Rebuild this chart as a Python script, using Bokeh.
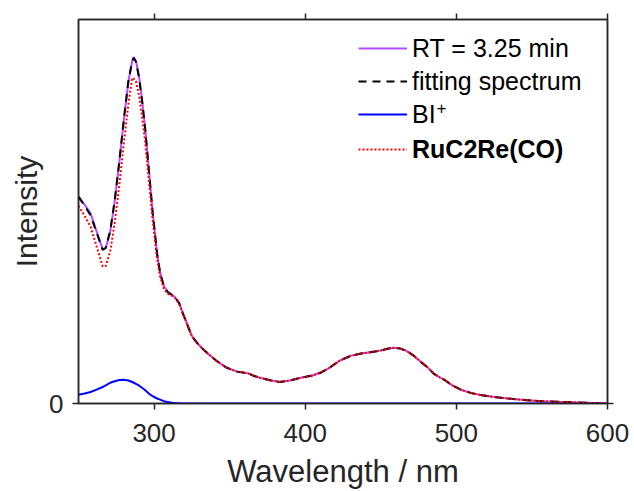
from bokeh.plotting import figure
from bokeh.models import Range1d, LinearAxis, FixedTicker, Legend, LegendItem, Label
from bokeh.embed import file_html
from bokeh.resources import INLINE

# ---------------- data ----------------
wavelength = [250, 254, 258, 262, 266, 268, 271, 274, 277, 280, 283, 285.5, 286.5, 288, 290,
              292, 294, 296.5, 299, 302, 304, 306.5, 309, 312, 314, 316.5, 319, 322, 325, 330,
              335, 341, 348, 355, 362, 366, 370, 376, 383, 390, 397, 404, 410, 416, 423, 430,
              437, 444, 450, 455, 459, 463, 467, 472, 476, 481, 485, 489, 492, 497, 503, 510,
              516, 525, 534, 545, 556, 570, 585, 600]

rt_spectrum = [0.540, 0.518, 0.495, 0.448, 0.402, 0.404, 0.447, 0.528, 0.628, 0.738, 0.838, 0.892,
               0.902, 0.892, 0.853, 0.793, 0.722, 0.612, 0.501, 0.391, 0.341, 0.306, 0.291, 0.283,
               0.276, 0.263, 0.236, 0.206, 0.176, 0.151, 0.132, 0.112, 0.093, 0.083, 0.079, 0.072,
               0.067, 0.061, 0.056, 0.060, 0.067, 0.072, 0.080, 0.093, 0.112, 0.124, 0.130, 0.134,
               0.138, 0.143, 0.145, 0.143, 0.137, 0.124, 0.110, 0.094, 0.078, 0.068, 0.062, 0.048,
               0.036, 0.027, 0.022, 0.017, 0.013, 0.009, 0.006, 0.004, 0.002, 0.000]

fitting_spectrum = [0.538, 0.515, 0.490, 0.445, 0.400, 0.405, 0.450, 0.530, 0.630, 0.740, 0.840, 0.890,
                    0.900, 0.890, 0.850, 0.790, 0.720, 0.610, 0.500, 0.390, 0.340, 0.305, 0.290, 0.282,
                    0.275, 0.262, 0.235, 0.205, 0.175, 0.150, 0.132, 0.112, 0.093, 0.083, 0.079, 0.072,
                    0.067, 0.061, 0.056, 0.060, 0.067, 0.072, 0.080, 0.093, 0.112, 0.124, 0.130, 0.134,
                    0.138, 0.143, 0.145, 0.143, 0.137, 0.124, 0.110, 0.094, 0.078, 0.068, 0.062, 0.048,
                    0.036, 0.027, 0.022, 0.017, 0.013, 0.009, 0.006, 0.004, 0.002, 0.000]

bi_plus = [0.023, 0.026, 0.030, 0.036, 0.043, 0.047, 0.054, 0.058, 0.061, 0.062, 0.060, 0.056,
           0.054, 0.051, 0.047, 0.041, 0.035, 0.026, 0.019, 0.013, 0.010, 0.006, 0.004, 0.002,
           0.001, 0.0005, 0.0, 0.0, 0.0, 0.0, 0.0, 0.0, 0.0, 0.0, 0.0, 0.0,
           0.0, 0.0, 0.0, 0.0, 0.0, 0.0, 0.0, 0.0, 0.0, 0.0, 0.0, 0.0,
           0.0, 0.0, 0.0, 0.0, 0.0, 0.0, 0.0, 0.0, 0.0, 0.0, 0.0, 0.0,
           0.0, 0.0, 0.0, 0.0, 0.0, 0.0, 0.0, 0.0, 0.0, 0.0]

ruc2re_co = [0.515, 0.489, 0.460, 0.409, 0.357, 0.358, 0.396, 0.472, 0.569, 0.678, 0.780, 0.848,
             0.846, 0.839, 0.803, 0.749, 0.685, 0.584, 0.481, 0.377, 0.330, 0.299, 0.286, 0.280,
             0.274, 0.2615, 0.235, 0.205, 0.175, 0.150, 0.132, 0.112, 0.093, 0.083, 0.079, 0.072,
             0.067, 0.061, 0.056, 0.060, 0.067, 0.072, 0.080, 0.093, 0.112, 0.124, 0.130, 0.134,
             0.138, 0.143, 0.145, 0.143, 0.137, 0.124, 0.110, 0.094, 0.078, 0.068, 0.062, 0.048,
             0.036, 0.027, 0.022, 0.017, 0.013, 0.009, 0.006, 0.004, 0.002, 0.000]

x_ticks = [300, 400, 500, 600]
y_ticks = [0]
labels = ["RT = 3.25 min", "fitting spectrum", "BI", "RuC2Re(CO)"]
superscript = "+"

# ---------------- figure ----------------
AX = "#262626"
FONT = "Liberation Sans"

p = figure(width=634, height=491, output_backend="svg", toolbar_location=None,
           x_range=Range1d(250, 600), y_range=Range1d(0, 1),
           min_border_left=78, min_border_right=27, min_border_top=19, min_border_bottom=87)
p.xgrid.visible = False
p.ygrid.visible = False
p.outline_line_color = AX
p.outline_line_width = 1.5
p.background_fill_color = "white"
p.border_fill_color = "white"

for ax in (p.xaxis[0], p.yaxis[0]):
    ax.axis_line_color = AX
    ax.axis_line_width = 1.5
    ax.major_tick_line_color = AX
    ax.major_tick_line_width = 1.5
    ax.major_tick_in = 0
    ax.major_tick_out = 6
    ax.minor_tick_line_color = None
    ax.major_label_text_color = AX
    ax.major_label_text_font = FONT
    ax.major_label_text_font_size = "26px"
    ax.axis_label_text_color = AX
    ax.axis_label_text_font = FONT
    ax.axis_label_text_font_style = "normal"

p.xaxis[0].ticker = FixedTicker(ticks=x_ticks)
p.xaxis[0].axis_label = "Wavelength / nm"
p.xaxis[0].axis_label_text_font_size = "31px"
p.xaxis[0].major_label_standoff = 14
p.xaxis[0].axis_label_standoff = 9
p.yaxis[0].ticker = FixedTicker(ticks=y_ticks)
p.yaxis[0].axis_label = "Intensity"
p.yaxis[0].axis_label_text_font_size = "30px"
p.yaxis[0].major_label_standoff = 9
p.yaxis[0].axis_label_standoff = 3

def frame_axis(ticks):
    return LinearAxis(ticker=FixedTicker(ticks=ticks), major_label_text_font_size="0px",
                      major_label_text_color=None, major_label_standoff=0,
                      axis_line_color=AX, axis_line_width=1.5,
                      major_tick_line_color=AX, major_tick_line_width=1.5,
                      major_tick_in=0, major_tick_out=6, minor_tick_line_color=None)

p.add_layout(frame_axis(x_ticks), "above")
p.add_layout(frame_axis(y_ticks), "right")

# ---------------- curves ----------------
r_rt = p.line(wavelength, rt_spectrum, line_color="#B24DFF", line_width=2)
r_fit = p.line(wavelength, fitting_spectrum, line_color="black", line_width=2, line_dash="8 6")
r_bi = p.line(wavelength, bi_plus, line_color="#0000FF", line_width=2)
r_ru = p.line(wavelength, ruc2re_co, line_color="#FF0000", line_width=2, line_dash="2 2")

common = dict(border_line_alpha=0, background_fill_alpha=0, padding=0, margin=0,
              glyph_width=49, glyph_height=30, label_height=30, spacing=3,
              label_standoff=5, label_text_font=FONT, label_text_font_size="25px",
              label_text_color="black")

leg1 = Legend(items=[LegendItem(label=labels[0], renderers=[r_rt]),
                     LegendItem(label=labels[1], renderers=[r_fit]),
                     LegendItem(label=labels[2], renderers=[r_bi])],
              location=(280, 274), **common)
leg2 = Legend(items=[LegendItem(label=labels[3], renderers=[r_ru])],
              location=(280, 239), label_text_font_style="bold", **common)
p.add_layout(leg1)
p.add_layout(leg2)

# superscript "+" of BI+ (screen units, relative to the plot frame)
p.add_layout(Label(x=358, y=296, x_units="screen", y_units="screen", text=superscript,
                   text_font=FONT, text_font_size="17px", text_color="black",
                   text_baseline="middle", text_align="left"))

open("out.html", "w").write(file_html(p, INLINE))
